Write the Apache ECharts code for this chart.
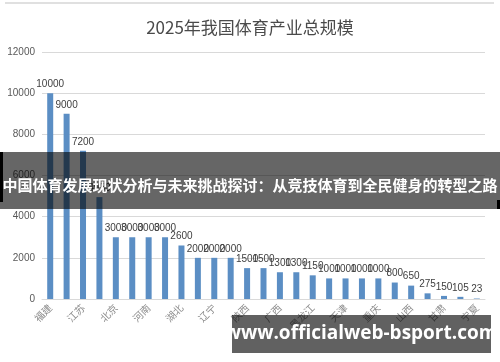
<!DOCTYPE html>
<html><head><meta charset="utf-8">
<script src="https://cdn.jsdelivr.net/npm/echarts@6/dist/echarts.min.js"></script>
<style>html,body{margin:0;padding:0;background:#fff;}#c{width:500px;height:362px;}</style>
</head><body><div id="c"></div>
<script>
const categories = ['福建','广东','江苏','浙江','北京','山东','河南','上海','湖北','四川','辽宁','湖南','陕西','安徽','广西','河北','黑龙江','江西','天津','云南','重庆','贵州','山西','吉林','甘肃','内蒙古','宁夏'];
const values = [10000,9000,7200,4950,3000,3000,3000,3000,2600,2000,2000,2000,1500,1500,1300,1300,1150,1000,1000,1000,1000,800,650,275,150,105,23];
const yTicks = [0,2000,4000,6000,8000,10000,12000];
const titleText = '2025年我国体育产业总规模';
const bannerText = '中国体育发展现状分析与未来挑战探讨：从竞技体育到全民健身的转型之路';
const urlText = 'www.officialweb-bsport.com';

const chart = echarts.init(document.getElementById('c'));
chart.setOption({
  backgroundColor: '#fff',
  animation: false,
  title: {text: titleText, left: 'center', top: 14, textStyle: {fontSize: 17, fontWeight: 'normal', color: '#4a4a4a', fontFamily: 'Noto Sans CJK SC'}},
  grid: {left: 42, right: 15, top: 52, bottom: 63},
  xAxis: {
    type: 'category', data: categories,
    axisLine: {lineStyle: {color: '#d9d9d9'}}, axisTick: {show: false},
    axisLabel: {interval: 1, rotate: 45, fontSize: 10, color: '#8c8c8c', margin: 7, fontFamily: 'Noto Sans CJK SC'}
  },
  yAxis: {
    type: 'value', min: yTicks[0], max: yTicks[yTicks.length-1], interval: 2000,
    axisLine: {show: false}, axisTick: {show: false},
    axisLabel: {fontSize: 10, color: '#595959', margin: 7, formatter: v => String(v)},
    splitLine: {lineStyle: {color: '#d9d9d9'}}
  },
  series: [{
    type: 'bar', data: values, barWidth: 6,
    itemStyle: {color: '#5b8ec4'},
    label: {show: true, position: 'top', fontSize: 10, color: '#404040', distance: 4}
  }],
  graphic: [
    {type: 'line', shape: {x1: 5, y1: 3, x2: 494, y2: 3}, style: {stroke: '#e0e0e0', lineWidth: 2}, z: 10},
    {type: 'rect', shape: {x: 0, y: 152, width: 500, height: 57}, style: {fill: 'rgba(0,0,0,0.6)'}, z: 100},
    {type: 'rect', shape: {x: 0, y: 152, width: 3, height: 50}, style: {fill: '#000'}, z: 101},
    {type: 'rect', shape: {x: 497, y: 200, width: 3, height: 9}, style: {fill: '#000'}, z: 101},
    {type: 'text', x: 250, y: 185, style: {text: bannerText, fill: '#fff', font: 'bold 15px "Noto Sans CJK SC"', align: 'center', verticalAlign: 'middle'}, z: 102},
    {type: 'rect', shape: {x: 232, y: 315, width: 259, height: 38}, style: {fill: 'rgba(0,0,0,0.62)'}, z: 100},
    {type: 'text', x: 361, y: 334, style: {text: urlText, fill: '#fff', font: 'bold 19px "Open Sans"', align: 'center', verticalAlign: 'middle'}, z: 102}
  ]
});
</script></body></html>
